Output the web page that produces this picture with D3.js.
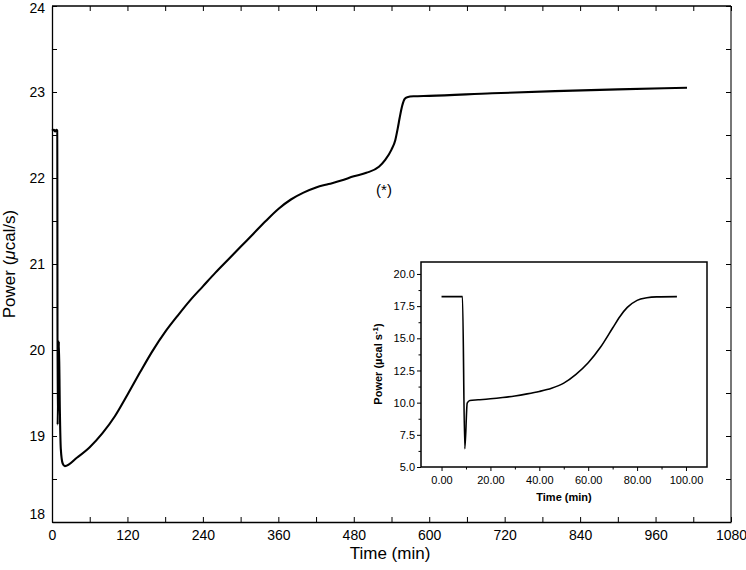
<!DOCTYPE html>
<html><head><meta charset="utf-8">
<script src="https://cdn.jsdelivr.net/npm/d3@7"></script>
<style>body{margin:0;background:#fff} text{font-family:"Liberation Sans",Arial,sans-serif}</style>
</head><body><svg id="c" width="746" height="570"></svg>
<script>
// Main chart data
const mainTime  = [0,3,5,7,8.4,8.9,11.0,12.5,14,17,20.5,40,60,80,100,120,140,160,180,200,220,240,260,280,300,320,340,360,380,400,420,440,460,480,500,520,530,540,546,550,553,557,561,565,575,600,700,800,900,1010];
const mainPower = [22.55,22.56,22.54,22.56,22.55,19.13,20.1,19.3,18.85,18.68,18.65,18.75,18.87,19.03,19.23,19.48,19.74,19.99,20.21,20.40,20.58,20.74,20.90,21.05,21.20,21.35,21.50,21.64,21.75,21.83,21.89,21.93,21.97,22.02,22.06,22.13,22.21,22.33,22.44,22.58,22.70,22.84,22.92,22.94,22.95,22.955,22.985,23.01,23.03,23.05];
const mainXTicks = [0,120,240,360,480,600,720,840,960,1080];
const mainYTicks = [18,19,20,21,22,23,24];
// Inset data
const insetTime  = [0,4,8.57,9.52,10.5,11.6,15,20,25,30,35,40,45,50,55,60,65,70,73,76,80,84,88,96.3];
const insetPower = [18.24,18.24,18.24,6.42,9.97,10.17,10.22,10.3,10.4,10.52,10.68,10.87,11.12,11.52,12.2,13.1,14.3,15.8,16.7,17.4,17.95,18.15,18.22,18.24];
const insetXTicks = [0,20,40,60,80,100];
const insetYTicks = [5,7.5,10,12.5,15,17.5,20];

const svg = d3.select("#c");
const L=52, R=731, T=6, B=522;
const x = d3.scaleLinear().domain([0,1080]).range([L,R]);
const y = d3.scaleLinear().domain([18,24]).range([B,T]);

// frame
svg.append("line").attr("x1",L).attr("x2",R).attr("y1",T).attr("y2",T).attr("stroke","#000").attr("stroke-width",1.3);
svg.append("line").attr("x1",R).attr("x2",R).attr("y1",T).attr("y2",B).attr("stroke","#777").attr("stroke-width",2);

const fs = "14px";
const bx = svg.append("g").attr("transform",`translate(0,${B})`)
  .call(d3.axisBottom(x).tickValues(d3.range(0,1081,60)).tickSizeInner(-5).tickSizeOuter(0)
    .tickFormat(d=>mainXTicks.includes(d)?d:""));
bx.selectAll("text").attr("font-size",fs).attr("dy","1.05em").attr("fill","#000");
const tx = svg.append("g").attr("transform",`translate(0,${T})`)
  .call(d3.axisTop(x).tickValues(d3.range(0,1081,60)).tickSizeInner(-5).tickSizeOuter(0).tickFormat(""));
const ly = svg.append("g").attr("transform",`translate(${L},0)`)
  .call(d3.axisLeft(y).tickValues(d3.range(18,24.01,0.5)).tickSizeInner(-5).tickSizeOuter(0)
    .tickFormat(d=>mainYTicks.includes(d)?d:""));
ly.selectAll("text").attr("font-size",fs).attr("x",-7).attr("fill","#000");
ly.selectAll(".tick").filter(d=>d===18).select("text").attr("dy","-0.25em");
ly.selectAll(".tick").filter(d=>d===24).select("text").attr("dy","0.45em");
const ry = svg.append("g").attr("transform",`translate(${R},0)`)
  .call(d3.axisRight(y).tickValues(d3.range(18,24.01,0.5)).tickSizeInner(-5).tickSizeOuter(0).tickFormat(""));
ry.select(".domain").remove();
tx.select(".domain").remove();
[bx,ly].forEach(g=>g.select(".domain").attr("stroke-width",1.3));
svg.selectAll(".tick line").attr("stroke","#000");

svg.append("path").datum(d3.range(mainTime.length))
  .attr("fill","none").attr("stroke","#000").attr("stroke-width",2.1).attr("stroke-linejoin","round")
  .attr("d",d3.line().x(i=>x(mainTime[i])).y(i=>y(mainPower[i])).curve(d3.curveMonotoneX));

svg.append("text").attr("x",390).attr("y",559).attr("text-anchor","middle").attr("font-size","17px").text("Time (min)");
const yl = svg.append("text").attr("transform","translate(15,264) rotate(-90)").attr("text-anchor","middle").attr("font-size","17px");
yl.append("tspan").text("Power (");
yl.append("tspan").attr("font-style","italic").text("\u03BC");
yl.append("tspan").text("cal/s)");
svg.append("text").attr("x",384).attr("y",195).attr("text-anchor","middle").attr("font-size","15px").text("(*)");

// inset
const iL=421, iR=707, iT=262, iB=467;
const ix = d3.scaleLinear().domain([-8.4,108.6]).range([iL,iR]);
const iy = d3.scaleLinear().domain([5,20.93]).range([iB,iT]);
svg.append("rect").attr("x",iL).attr("y",iT).attr("width",iR-iL).attr("height",iB-iT)
  .attr("fill","#fff").attr("stroke","#000").attr("stroke-width",1.5);
const ibx = svg.append("g").attr("transform",`translate(0,${iB})`)
  .call(d3.axisBottom(ix).tickValues(d3.range(0,101,10)).tickSizeInner(4).tickSizeOuter(0)
    .tickFormat(d=>insetXTicks.includes(d)?d3.format(".2f")(d):""));
ibx.selectAll(".tick").filter(d=>!insetXTicks.includes(d)).select("line").attr("y2",2.5);
const ily = svg.append("g").attr("transform",`translate(${iL},0)`)
  .call(d3.axisLeft(iy).tickValues(d3.range(5,20.01,1.25)).tickSizeInner(4).tickSizeOuter(0)
    .tickFormat(d=>insetYTicks.includes(d)?d3.format(".1f")(d):""));
ily.selectAll(".tick").filter(d=>!insetYTicks.includes(d)).select("line").attr("x2",-2.5);
[ibx,ily].forEach(g=>{g.select(".domain").remove();g.selectAll("text").attr("font-size","11px").attr("fill","#000");g.selectAll("line").attr("stroke","#000");});
ibx.selectAll("text").attr("dy","0.95em");
ily.selectAll("text").attr("x",-6);

svg.append("path").datum(d3.range(insetTime.length))
  .attr("fill","none").attr("stroke","#000").attr("stroke-width",1.6).attr("stroke-linejoin","round")
  .attr("d",d3.line().x(i=>ix(insetTime[i])).y(i=>iy(insetPower[i])).curve(d3.curveMonotoneX));

svg.append("text").attr("x",564).attr("y",501).attr("text-anchor","middle").attr("font-size","11px").attr("font-weight","bold").text("Time (min)");
const il = svg.append("text").attr("transform","translate(382,364) rotate(-90)").attr("text-anchor","middle").attr("font-size","11px").attr("font-weight","bold");
il.append("tspan").text("Power (\u00B5cal s");
il.append("tspan").attr("baseline-shift","super").attr("font-size","8px").text("-1");
il.append("tspan").text(")");
</script></body></html>
